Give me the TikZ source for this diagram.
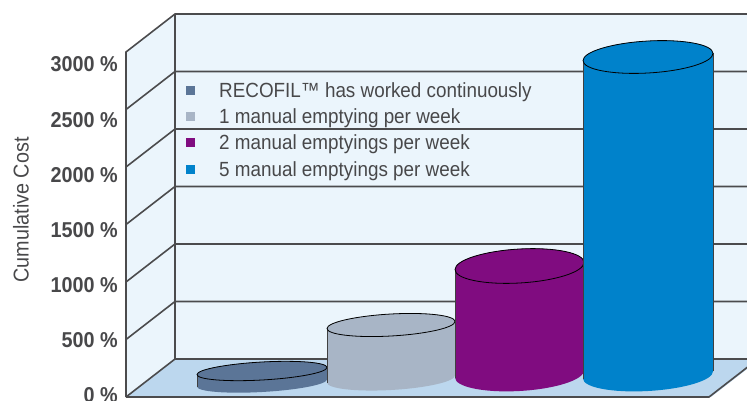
\documentclass[tikz,border=0pt]{standalone}
\usepackage{fontspec}
\setmainfont{Liberation Sans}
\newfontfamily\narrowfont[FakeStretch=0.92]{Liberation Sans}
\usetikzlibrary{positioning}
\definecolor{wallblue}{RGB}{235,245,252}
\definecolor{floorblue}{RGB}{188,215,238}
\definecolor{gridgray}{RGB}{75,75,77}
\definecolor{textgray}{RGB}{72,72,74}
\definecolor{slate}{RGB}{91,117,151}
\definecolor{pewter}{RGB}{168,181,198}
\definecolor{plum}{RGB}{128,12,128}
\definecolor{azure}{RGB}{0,130,203}
\tikzset{gridline/.style={gridgray,line width=1.6pt}}
\tikzset{ticklabel/.style={anchor=base east,inner sep=0pt,text=textgray,font=\narrowfont\fontsize{21.5}{22}\selectfont\bfseries}}
\tikzset{legendtext/.style={anchor=base west,inner sep=0pt,text=textgray,font=\narrowfont\fontsize{20.5}{21}\selectfont}}
\tikzset{legendbox/.style={minimum size=9pt,inner sep=0pt}}
\newcommand{\drawcylinder}[6]{%
	\begin{scope}[shift={(#1,0)},yslant=0.055]
		\fill[#6] (-#2,#3) -- (-#2,#4) arc[start angle=180,end angle=360,x radius=#2,y radius=#5] -- (#2,#3) arc[start angle=0,end angle=180,x radius=#2,y radius=#5] -- cycle;
		\draw[black!75,line width=0.6pt] (-#2,#4) -- (-#2,#3) (#2,#4) -- (#2,#3);
		\draw[black,line width=0.8pt,fill=#6] (0,#3) ellipse [x radius=#2,y radius=#5];
	\end{scope}}

\begin{document}
\begin{tikzpicture}[x=1pt,y=1pt]

	\useasboundingbox (0,0) rectangle (747,400);
	\fill[wallblue] (126,3) -- (126,348) -- (175,386) -- (747,386) -- (747,41) -- (175,41) -- cycle;
	\fill[floorblue] (126,3) -- (175,41) -- (760,41) -- (711,3) -- cycle;
	\foreach \k in {1,...,5}
		\draw[gridline] (126,{3+57.5*\k}) -- (175,{41+57.5*\k}) -- (747,{41+57.5*\k});
	\draw[gridline] (126,3) -- (126,348) -- (175,386) -- (747,386);
	\draw[gridline] (175,386) -- (175,41) -- (747,41);
	\draw[gridline] (126,3) -- (175,41);
	\draw[gridline] (126,3) -- (709,3) -- (758,41);

	\foreach \v [count=\i from 0] in {0,500,...,3000}
		\node[ticklabel] (tick\i) at (118,{-2+55*\i}) {\v{} \%};
	\node[rotate=90,text=textgray,font=\narrowfont\fontsize{21.5}{22}\selectfont] (ytitle) at (21,190) {Cumulative Cost};

	\foreach \c/\t [count=\i] in {slate/RECOFIL™ has worked continuously,pewter/1 manual emptying per week,plum/2 manual emptyings per week,azure/5 manual emptyings per week}
	{
		\node[legendbox,fill=\c] (mark\i) at (190,{310-26.4*(\i-1)}) {};
		\node[legendtext] (entry\i) at (219,{303-26.4*(\i-1)}) {\t};
	}

	\drawcylinder{262}{65}{29}{17}{9}{slate}
	\drawcylinder{391}{64}{75}{21}{11}{pewter}
	\drawcylinder{519.5}{64.5}{134}{26}{17}{plum}
	\drawcylinder{648}{65}{343}{25}{16}{azure}
\end{tikzpicture}
\end{document}
